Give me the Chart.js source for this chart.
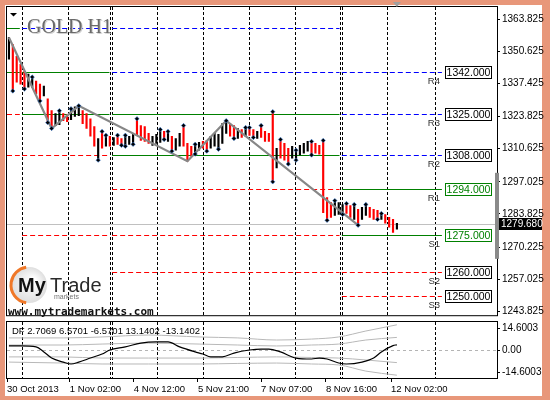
<!DOCTYPE html>
<html>
<head>
<meta charset="utf-8">
<script src="https://cdn.jsdelivr.net/npm/chart.js@4.4.0/dist/chart.umd.min.js"></script>
<style>
  html, body { margin: 0; padding: 0; }
  body { width: 550px; height: 400px; overflow: hidden; position: relative; background: #e8977a; }
  .inner { position: absolute; left: 5px; top: 5px; width: 537px; height: 391px; background: #fff; }
  #main { position: absolute; left: 0; top: 0; }
  #ind { position: absolute; left: 0; top: 320px; }
</style>
</head>
<body>
<div class="inner"></div>
<canvas id="main" width="550" height="320"></canvas>
<canvas id="ind" width="550" height="80"></canvas>
<script>
const symbolTitle = 'GOLD H1'

// H1 bars, index 0 = first bar on screen
const highs = [
  1356.2, 1353.3, 1348.5, 1345.2, 1342.4, 1341.2, 1340.0, 1338.4, 1337.1, 1336.3,
  1331.1, 1326.2, 1325.0, 1326.2, 1325.0, 1324.6, 1327.0, 1327.8, 1328.2, 1326.2,
  1325.0, 1322.9, 1319.7, 1314.8, 1317.7, 1316.1, 1315.7, 1315.2, 1316.1, 1314.8,
  1316.1, 1315.7, 1316.5, 1322.9, 1320.1, 1319.7, 1316.9, 1315.7, 1316.5, 1318.5,
  1317.7, 1317.7, 1315.7, 1314.8, 1316.9, 1320.1, 1312.8, 1311.6, 1312.4, 1313.2,
  1313.6, 1314.0, 1315.7, 1316.9, 1316.5, 1320.9, 1322.1, 1320.9, 1320.1, 1318.9,
  1318.5, 1319.3, 1319.3, 1318.5, 1317.7, 1320.1, 1317.7, 1316.9, 1325.8, 1310.8,
  1314.4, 1312.8, 1310.8, 1311.6, 1310.0, 1312.0, 1312.8, 1313.6, 1313.6, 1312.8,
  1312.0, 1314.0, 1290.5, 1288.5, 1289.3, 1288.5, 1287.7, 1288.1, 1287.3, 1287.7,
  1285.7, 1286.5, 1287.7, 1286.5, 1285.7, 1285.3, 1284.0, 1283.6, 1282.4, 1281.6,
  1280.0
]
const lows = [
  1347.3, 1334.3, 1337.9, 1337.1, 1335.1, 1335.9, 1335.9, 1333.1, 1330.2, 1332.3,
  1321.3, 1318.9, 1320.1, 1320.5, 1322.1, 1321.7, 1322.5, 1323.8, 1324.2, 1320.9,
  1318.9, 1315.7, 1311.6, 1305.9, 1310.8, 1311.6, 1311.6, 1312.0, 1312.4, 1312.0,
  1311.6, 1312.4, 1312.4, 1316.1, 1314.0, 1313.6, 1312.8, 1312.0, 1312.8, 1313.2,
  1314.4, 1313.6, 1309.6, 1310.0, 1311.6, 1311.6, 1305.5, 1307.5, 1308.4, 1310.0,
  1310.8, 1309.6, 1310.8, 1311.6, 1310.4, 1312.8, 1316.9, 1315.7, 1314.8, 1314.8,
  1315.2, 1315.7, 1316.1, 1315.2, 1314.8, 1315.2, 1313.6, 1313.6, 1297.0, 1302.7,
  1306.7, 1305.9, 1304.3, 1306.7, 1305.9, 1308.0, 1308.8, 1309.6, 1308.0, 1308.8,
  1308.4, 1284.4, 1281.2, 1282.4, 1283.2, 1283.6, 1283.6, 1284.0, 1282.4, 1281.6,
  1279.2, 1281.6, 1283.2, 1282.4, 1281.6, 1281.6, 1281.6, 1280.0, 1278.4, 1276.3,
  1277.6
]
// 1 = bull bar (black), 0 = bear bar (red)
const upBar = [
  1,0,0,0,0,1,1,0,0,1, 0,0,1,1,0,0,1,1,1,0, 0,0,0,1,0,1,0,1,0,0,
  1,1,1,0,0,0,0,1,1,1, 0,1,0,1,1,0,0,0,1,1, 0,0,1,1,1,1,1,0,0,1,
  0,1,0,0,1,0,0,0,0,1, 0,0,0,1,1,1,1,1,0,0, 0,0,0,0,1,1,1,0,0,1,
  0,1,1,0,0,0,1,0,0,0, 1
]
const zigIdx = [0, 11, 18, 46, 56, 90]
const zigKind = ['h', 'l', 'h', 'l', 'h', 'l']
const fracUp = [6, 13, 16, 18, 24, 25, 28, 30, 33, 39, 41, 45, 48, 56, 61, 62, 65, 68, 70, 74, 78, 81, 84, 87, 89, 92, 96]
const fracDown = [1, 4, 8, 10, 11, 23, 29, 30, 32, 40, 42, 48, 51, 54, 58, 63, 68, 72, 74, 78, 82, 86, 90, 95]
const bidPrice = 1279.68
const rangeBar = [1265.4, 1300.7]

const priceTicks = [1363.825, 1350.625, 1337.425, 1323.825, 1310.625, 1297.025, 1283.825, 1270.225, 1257.025, 1243.825]

// pivot levels and their role in each weekly segment (R resistance, P near, S support)
const levelPrices = [1360, 1342, 1325, 1308, 1294, 1275, 1260, 1250]
const pivotNames = ['', 'R4', 'R3', 'R2', 'R1', 'S1', 'S2', 'S3']
const segStart = [-0.5, 3.4, 26.6, 85.8]
const segEnd = [2.8, 25.9, 85.2, 111.6]
const segRoles = [
  ['P', 'P', 'S', 'S', '', '', '', ''],
  ['R', 'P', 'P', 'S', '', 'S', '', ''],
  ['R', 'R', 'P', 'P', 'S', 'S', 'S', ''],
  ['', 'R', 'R', 'R', 'P', 'P', 'S', 'S']
]

// time axis
const gridIdx = [3.4, 15.2, 26.1, 26.6, 38.2, 50.0, 61.9, 73.7, 85.3, 85.8, 97.4, 109.8]
const timeIdx = [-0.5, 15.7, 32.2, 48.7, 65.0, 81.7, 98.5]
const timeLabels = ['30 Oct 2013', '1 Nov 02:00', '4 Nov 12:00', '5 Nov 21:00', '7 Nov 07:00', '8 Nov 16:00', '12 Nov 02:00']

// DF indicator
const dfIdx = [0, 3, 7, 9, 11, 14, 16, 18, 21, 24, 26, 30, 34, 38, 41, 44, 48, 50, 52, 55, 58, 62, 65, 67, 70, 74, 78, 80, 82, 85, 87, 91, 94, 96, 99, 100]
const dfVals = [2.1, 2.1, 1.6, -1.0, -4.2, -6.3, -7.3, -6.3, -4.2, -2.1, 0, 1.6, 3.6, 4.2, 4.2, 1.6, -1.0, -2.1, -3.6, -3.6, -1.6, 0, 0.5, 0.5, -1.0, -4.2, -4.7, -4.2, -4.7, -6.8, -7.3, -6.3, -4.2, -1.0, 2.3, 2.7069]
const bandIdx = [0, 14, 24, 36, 49, 59, 69, 78, 85, 92, 100]
const bandUp2 = [6.3, 6.3, 6.8, 7.8, 6.8, 6.3, 5.2, 5.7, 6.8, 9.9, 13.1402]
const bandUp1 = [2.6, 2.6, 3.1, 3.6, 3.1, 2.6, 2.1, 2.6, 3.1, 5.2, 6.5701]
const bandDn1 = [-3.6, -3.6, -4.2, -4.2, -4.2, -3.9, -3.6, -3.9, -4.2, -5.2, -6.5701]
const bandDn2 = [-6.3, -6.8, -7.3, -7.3, -7.3, -7.0, -6.8, -7.3, -7.8, -11.0, -13.1402]
const dfLabelVals = [2.7069, 6.5701, -6.5701, 13.1402, -13.1402]
const dfMax = 14.6003

const xMin = -0.5
const xMax = 125.8
const priceMin = 1242.28
const priceMax = 1368.75

const roleColor = { R: '#0000ff', P: '#008000', S: '#ff0000' }
const FONT = '"Liberation Sans", Arial, sans-serif'
Chart.defaults.font.family = FONT

function hline(ctx, x0, x1, y) {
  ctx.beginPath(); ctx.moveTo(x0, y); ctx.lineTo(x1, y); ctx.stroke()
}
function vline(ctx, x, y0, y1) {
  ctx.beginPath(); ctx.moveTo(x, y0); ctx.lineTo(x, y1); ctx.stroke()
}

const mainDeco = {
  id: 'mainDeco',
  beforeDatasetsDraw(chart) {
    const { ctx, chartArea: a, scales: { x, y } } = chart
    ctx.save()
    ctx.beginPath(); ctx.rect(a.left, a.top, a.right - a.left, a.bottom - a.top); ctx.clip()
    ctx.lineWidth = 1

    ctx.strokeStyle = '#000'; ctx.setLineDash([3, 2])
    gridIdx.forEach(v => vline(ctx, Math.round(x.getPixelForValue(v)) + 0.5, a.top, a.bottom))

    segRoles.forEach((roles, s) => {
      const x0 = x.getPixelForValue(segStart[s])
      const x1 = x.getPixelForValue(segEnd[s])
      roles.forEach((r, k) => {
        if (!r) return
        const py = Math.round(y.getPixelForValue(levelPrices[k])) + 0.5
        ctx.strokeStyle = roleColor[r]
        ctx.setLineDash(r === 'P' ? [] : [5, 3])
        hline(ctx, x0, x1, py)
      })
    })

    ctx.setLineDash([]); ctx.strokeStyle = '#c0c0c0'
    hline(ctx, a.left, a.right, Math.round(y.getPixelForValue(bidPrice)) + 0.5)
    ctx.restore()
  },
  afterDraw(chart) {
    const { ctx, chartArea: a, scales: { x, y } } = chart
    ctx.save()

    // labels and price boxes of the current week
    const last = segRoles.length - 1
    segRoles[last].forEach((r, k) => {
      if (!r) return
      const py = Math.round(y.getPixelForValue(levelPrices[k])) + 0.5
      const bx = a.right - 52, bw = 47
      ctx.font = '9.5px ' + FONT
      ctx.fillStyle = '#333'; ctx.textAlign = 'right'; ctx.textBaseline = 'alphabetic'
      ctx.fillText(pivotNames[k], bx - 5, py + 11)
      const c = r === 'P' ? '#008000' : '#000'
      ctx.fillStyle = '#fff'; ctx.fillRect(bx, py - 6, bw, 12)
      ctx.strokeStyle = c; ctx.lineWidth = 1
      ctx.strokeRect(bx + 0.5, py - 6, bw - 1, 12)
      ctx.fillStyle = c; ctx.textAlign = 'center'; ctx.textBaseline = 'middle'
      ctx.font = '10.5px ' + FONT
      ctx.fillText(levelPrices[k].toFixed(3), bx + bw / 2, py + 0.5)
    })

    // plot border
    ctx.strokeStyle = '#000'; ctx.lineWidth = 1
    ctx.strokeRect(a.left - 0.5, a.top - 0.5, a.right - a.left + 1, a.bottom - a.top + 1)

    // grey range bar at the price scale edge
    const r0 = y.getPixelForValue(rangeBar[1]), r1 = y.getPixelForValue(rangeBar[0])
    ctx.fillStyle = '#8a8a8a'
    ctx.fillRect(a.right - 2, r0, 4, r1 - r0)

    // bid label
    const by = Math.round(y.getPixelForValue(bidPrice))
    ctx.fillStyle = '#000'; ctx.fillRect(a.right + 2, by - 6, 43, 12)
    ctx.fillStyle = '#fff'; ctx.font = '10px ' + FONT
    ctx.textAlign = 'left'; ctx.textBaseline = 'middle'
    ctx.fillText(bidPrice.toFixed(3), a.right + 4, by + 0.5)

    // chart shift marker
    const sx = x.getPixelForValue(highs.length - 1)
    ctx.fillStyle = '#a0a0a0'
    ctx.beginPath(); ctx.moveTo(sx - 4, 2); ctx.lineTo(sx + 4, 2); ctx.lineTo(sx, 7); ctx.closePath(); ctx.fill()

    // title
    ctx.fillStyle = '#000'
    ctx.beginPath(); ctx.moveTo(10, 13); ctx.lineTo(17, 13); ctx.lineTo(13.5, 16.5); ctx.closePath(); ctx.fill()
    ctx.font = '20px "Liberation Serif", serif'
    ctx.textAlign = 'left'; ctx.textBaseline = 'alphabetic'
    ctx.fillStyle = '#cfcfcf'; ctx.fillText(symbolTitle, 28, 34)
    ctx.fillStyle = '#6a6a6a'; ctx.fillText(symbolTitle, 27, 33)

    // logo
    const cx = 29, cy = 285, rr = 18
    const g = ctx.createRadialGradient(cx + 5, cy - 5, 2, cx, cy, rr)
    g.addColorStop(0, '#ffffff'); g.addColorStop(1, '#dedede')
    ctx.fillStyle = g
    ctx.beginPath(); ctx.arc(cx, cy, rr, 0, Math.PI * 2); ctx.fill()
    ctx.strokeStyle = '#f07828'; ctx.lineWidth = 3
    ctx.beginPath(); ctx.arc(cx, cy, rr, 0.55 * Math.PI, 1.45 * Math.PI); ctx.stroke()
    ctx.fillStyle = '#111'; ctx.font = 'bold 20px ' + FONT
    ctx.fillText('My', 18, 292)
    ctx.fillStyle = '#2a2a2a'; ctx.font = '20px ' + FONT
    ctx.fillText('Trade', 50, 292)
    ctx.fillStyle = '#777'; ctx.font = '7px ' + FONT
    ctx.fillText('markets', 54, 299)
    ctx.fillStyle = '#111'; ctx.font = 'bold 11px "DejaVu Sans Mono", monospace'
    ctx.fillText('www.mytrademarkets.com', 8, 315)

    ctx.restore()
  }
}

const barData = highs.map((h, i) => ({ x: i, y: [lows[i], h] }))
const zigData = zigIdx.map((i, k) => ({ x: i, y: zigKind[k] === 'h' ? highs[i] : lows[i] }))

new Chart(document.getElementById('main'), {
  type: 'bar',
  data: {
    datasets: [
      {
        type: 'scatter',
        data: fracUp.map(i => ({ x: i, y: highs[i] })),
        pointStyle: 'rectRot', pointRadius: 2.2,
        backgroundColor: '#000', borderColor: 'rgba(60,130,220,0.7)', borderWidth: 0.8,
        order: 1
      },
      {
        type: 'scatter',
        data: fracDown.map(i => ({ x: i, y: lows[i] })),
        pointStyle: 'rectRot', pointRadius: 2.2,
        backgroundColor: '#000', borderColor: 'rgba(60,130,220,0.7)', borderWidth: 0.8,
        order: 1
      },
      {
        type: 'line',
        data: zigData,
        borderColor: '#878787', borderWidth: 2.2, pointRadius: 0, tension: 0,
        order: 2
      },
      {
        type: 'bar',
        data: barData,
        backgroundColor: upBar.map(u => u ? '#000' : '#ff0000'),
        barThickness: 1.5,
        order: 3
      }
    ]
  },
  options: {
    responsive: false,
    devicePixelRatio: 1,
    animation: false,
    events: [],
    layout: { padding: { left: 7, top: 7, right: 0, bottom: 1 } },
    plugins: { legend: { display: false }, tooltip: { enabled: false } },
    scales: {
      x: { type: 'linear', min: xMin, max: xMax, offset: false, display: false, grid: { offset: false } },
      y: {
        position: 'right', min: priceMin, max: priceMax, beginAtZero: false,
        afterBuildTicks: s => { s.ticks = priceTicks.map(v => ({ value: v })) },
        afterFit: s => { s.width = 53; s.paddingTop = 0; s.paddingBottom = 0 },
        grid: { drawOnChartArea: false, color: '#000', tickLength: 3 },
        border: { display: false },
        ticks: { autoSkip: false, padding: 2, color: '#000', font: { size: 10 }, callback: v => v.toFixed(3) }
      }
    }
  },
  plugins: [mainDeco]
})

const indDeco = {
  id: 'indDeco',
  beforeDatasetsDraw(chart) {
    const { ctx, chartArea: a, scales: { x, y } } = chart
    ctx.save()
    ctx.lineWidth = 1
    ctx.strokeStyle = '#000'; ctx.setLineDash([3, 2])
    gridIdx.forEach(v => vline(ctx, Math.round(x.getPixelForValue(v)) + 0.5, a.top, a.bottom))
    ctx.strokeStyle = '#b4b4b4'; ctx.setLineDash([3, 3])
    hline(ctx, a.left, a.right, Math.round(y.getPixelForValue(0)) + 0.5)
    ctx.restore()
  },
  afterDraw(chart) {
    const { ctx, chartArea: a, scales: { y } } = chart
    ctx.save()
    ctx.strokeStyle = '#000'; ctx.lineWidth = 1
    ctx.strokeRect(a.left - 0.5, a.top - 0.5, a.right - a.left + 1, a.bottom - a.top + 1)

    ctx.fillStyle = '#000'; ctx.font = '9.5px ' + FONT
    ctx.textAlign = 'left'; ctx.textBaseline = 'middle'
    ctx.fillText('DF ' + dfLabelVals.map(v => v.toFixed(4)).join(' '), a.left + 5, a.top + 9)

    ctx.font = '10px ' + FONT
    const marks = [[dfMax, 6], [0, 0], [-dfMax, -6]]
    marks.forEach(([v, off]) => {
      const py = Math.round(y.getPixelForValue(v)) + off + 0.5
      hline(ctx, a.right, a.right + 3, py)
      ctx.fillText(v === 0 ? '0.00' : v.toFixed(4), a.right + 5, py)
    })
    ctx.restore()
  }
}

const bandLine = arr => ({
  data: bandIdx.map((v, i) => ({ x: v, y: arr[i] })),
  borderColor: '#b8b8b8', borderWidth: 1, pointRadius: 0, cubicInterpolationMode: 'monotone'
})

new Chart(document.getElementById('ind'), {
  type: 'line',
  data: {
    datasets: [
      {
        data: dfIdx.map((v, i) => ({ x: v, y: dfVals[i] })),
        borderColor: '#000', borderWidth: 1.2, pointRadius: 0, cubicInterpolationMode: 'monotone'
      },
      bandLine(bandUp2),
      bandLine(bandUp1),
      bandLine(bandDn1),
      bandLine(bandDn2)
    ]
  },
  options: {
    responsive: false,
    devicePixelRatio: 1,
    animation: false,
    events: [],
    layout: { padding: { left: 7, top: 2, right: 53, bottom: 0 } },
    plugins: { legend: { display: false }, tooltip: { enabled: false } },
    scales: {
      x: {
        type: 'linear', min: xMin, max: xMax, offset: false,
        afterBuildTicks: s => { s.ticks = timeIdx.map(v => ({ value: v })) },
        afterFit: s => { s.height = 22; s.paddingLeft = 0; s.paddingRight = 0 },
        grid: { drawOnChartArea: false, color: '#000', tickLength: 4 },
        border: { display: false },
        ticks: {
          autoSkip: false, maxRotation: 0, minRotation: 0, align: 'start', padding: 2,
          color: '#000', font: { size: 9.5 }, callback: (v, i) => timeLabels[i]
        }
      },
      y: { display: false, min: -dfMax, max: dfMax }
    }
  },
  plugins: [indDeco]
})
</script>
</body>
</html>
